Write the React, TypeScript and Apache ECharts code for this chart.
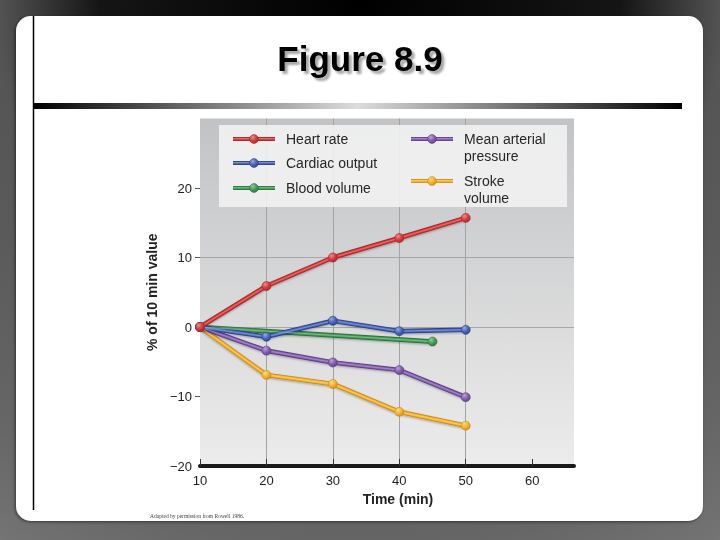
import React, { useEffect, useRef } from 'react';
import * as echarts from 'echarts';

// ---- data ----
const times = [10, 20, 30, 40, 50];
const heartRate = [0, 5.9, 10, 12.8, 15.7];
const cardiacOutput = [0, -1.4, 0.9, -0.6, -0.4];
const bloodVolumeTimes = [10, 45];
const bloodVolume = [0, -2.1];
const meanArterialPressure = [0, -3.4, -5.1, -6.2, -10.1];
const strokeVolume = [0, -6.9, -8.2, -12.2, -14.2];
const xTickValues = [10, 20, 30, 40, 50, 60];
const yTickValues = [-20, -10, 0, 10, 20];
const legendLabels = ['Heart rate', 'Cardiac output', 'Blood volume', 'Mean arterial\npressure', 'Stroke\nvolume'];

const FONT = '"Liberation Sans", Arial, Helvetica, sans-serif';

const palette = {
  red: { dark: '#a92428', mid: '#d2403f', light: '#ee8f86' },
  blue: { dark: '#2a418a', mid: '#4d67b6', light: '#97aadd' },
  green: { dark: '#28733a', mid: '#4a9b5c', light: '#93cc98' },
  purple: { dark: '#5f3b88', mid: '#8462ac', light: '#bba3d8' },
  orange: { dark: '#d08a0c', mid: '#f2b435', light: '#fbd98a' },
};

type Pal = { dark: string; mid: string; light: string };

const ballFill = (c: Pal) => ({
  type: 'radial',
  x: 0.35,
  y: 0.3,
  r: 0.8,
  colorStops: [
    { offset: 0, color: c.light },
    { offset: 0.5, color: c.mid },
    { offset: 1, color: c.dark },
  ],
});

const zip = (xs: number[], ys: number[]) => xs.map((x, i) => [x, ys[i]]);

const seriesDefs = [
  { name: legendLabels[4], data: zip(times, strokeVolume), pal: palette.orange },
  { name: legendLabels[3], data: zip(times, meanArterialPressure), pal: palette.purple },
  { name: legendLabels[2], data: zip(bloodVolumeTimes, bloodVolume), pal: palette.green },
  { name: legendLabels[1], data: zip(times, cardiacOutput), pal: palette.blue },
  { name: legendLabels[0], data: zip(times, heartRate), pal: palette.red },
];

const legendPalettes = [palette.red, palette.blue, palette.green, palette.purple, palette.orange];

function buildLegend() {
  // layout of the two-column legend
  const slots = [
    { x: 233, tx: 286, y: 139 },
    { x: 233, tx: 286, y: 163 },
    { x: 233, tx: 286, y: 188 },
    { x: 411, tx: 464, y: 139 },
    { x: 411, tx: 464, y: 181 },
  ];
  const els: any[] = [
    {
      type: 'rect',
      z: 3,
      shape: { x: 219, y: 125, width: 348, height: 82 },
      style: { fill: 'rgba(242,242,242,0.9)' },
      silent: true,
    },
  ];
  legendLabels.forEach((label, i) => {
    const s = slots[i];
    const c = legendPalettes[i];
    els.push({
      type: 'line',
      z: 4,
      shape: { x1: s.x, y1: s.y, x2: s.x + 42, y2: s.y },
      style: { stroke: c.dark, lineWidth: 4 },
    });
    els.push({
      type: 'line',
      z: 4,
      shape: { x1: s.x, y1: s.y, x2: s.x + 42, y2: s.y },
      style: { stroke: c.mid, lineWidth: 2.4 },
    });
    els.push({
      type: 'line',
      z: 4,
      shape: { x1: s.x, y1: s.y - 0.5, x2: s.x + 42, y2: s.y - 0.5 },
      style: { stroke: c.light, lineWidth: 0.7, opacity: 0.8 },
    });
    els.push({
      type: 'circle',
      z: 4,
      shape: { cx: s.x + 21, cy: s.y, r: 4.4 },
      style: { fill: ballFill(c), stroke: c.dark, lineWidth: 0.6 },
    });
    els.push({
      type: 'text',
      z: 4,
      x: s.tx,
      y: s.y - 8.5,
      style: {
        text: label,
        fontFamily: FONT,
        fontSize: 14,
        lineHeight: 17,
        fill: '#262626',
        align: 'left',
        verticalAlign: 'top',
      },
    });
  });
  return els;
}

function buildFrame() {
  return [
    {
      type: 'rect',
      z: -20,
      silent: true,
      shape: { x: 0, y: 0, width: 720, height: 540 },
      style: {
        fill: {
          type: 'radial',
          x: 360,
          y: 0,
          r: 650,
          global: true,
          colorStops: [
            { offset: 0, color: '#000000' },
            { offset: 0.4, color: '#151515' },
            { offset: 0.56, color: '#555555' },
            { offset: 0.85, color: '#666666' },
            { offset: 1, color: '#747474' },
          ],
        },
      },
    },
    {
      type: 'rect',
      z: -19,
      silent: true,
      shape: { x: 16, y: 16, width: 687, height: 505, r: 15 },
      style: { fill: '#ffffff', shadowColor: 'rgba(0,0,0,0.5)', shadowBlur: 3, shadowOffsetX: -1, shadowOffsetY: 1 },
    },
    {
      type: 'line',
      z: -18,
      silent: true,
      shape: { x1: 33.5, y1: 16, x2: 33.5, y2: 510 },
      style: { stroke: '#000', lineWidth: 1.5 },
    },
    {
      type: 'rect',
      z: -18,
      silent: true,
      shape: { x: 33, y: 103, width: 649, height: 6 },
      style: {
        fill: {
          type: 'linear',
          x: 0,
          y: 0,
          x2: 1,
          y2: 0,
          colorStops: [
            { offset: 0, color: '#000000' },
            { offset: 0.5, color: '#dcdcdc' },
            { offset: 1, color: '#000000' },
          ],
        },
      },
    },
    {
      type: 'text',
      z: 5,
      x: 150,
      y: 516,
      style: {
        text: 'Adapted by permission from Rowell 1986.',
        fontFamily: '"Liberation Serif", "Times New Roman", serif',
        fontSize: 5.5,
        fill: '#444',
        align: 'left',
        verticalAlign: 'middle',
      },
    },
  ];
}

const fmtY = (v: number) => (v < 0 ? '\u2212' + Math.abs(v) : String(v));

export default function App() {
  const ref = useRef<HTMLDivElement>(null);
  useEffect(() => {
    if (!ref.current) return;
    const chart = echarts.init(ref.current, undefined, { renderer: 'svg' });
    const series: any[] = [];
    seriesDefs.forEach((s) => {
      series.push({
        type: 'line',
        name: s.name + ' base',
        data: s.data,
        z: 2,
        symbol: 'none',
        silent: true,
        lineStyle: {
          color: s.pal.dark,
          width: 4.6,
          shadowColor: 'rgba(0,0,0,0.3)',
          shadowBlur: 2,
          shadowOffsetY: 1,
        },
        emphasis: { disabled: true },
      });
      series.push({
        type: 'line',
        name: s.name + ' body',
        data: s.data,
        z: 2,
        symbol: 'none',
        silent: true,
        lineStyle: { color: s.pal.mid, width: 2.8 },
        emphasis: { disabled: true },
      });
      series.push({
        type: 'line',
        name: s.name,
        data: s.data,
        z: 3,
        symbol: 'circle',
        symbolSize: 9,
        silent: true,
        lineStyle: { color: s.pal.light, width: 0.8, opacity: 0.8 },
        itemStyle: { color: ballFill(s.pal), borderColor: s.pal.dark, borderWidth: 0.6 },
        emphasis: { disabled: true },
      });
    });

    chart.setOption({
      animation: false,
      title: {
        text: 'Figure 8.9',
        left: 'center',
        top: 41,
        padding: 0,
        textStyle: {
          fontFamily: FONT,
          fontSize: 35,
          fontWeight: 'bold',
          color: '#000',
          textShadowColor: 'rgba(0,0,0,0.35)',
          textShadowOffsetX: 3,
          textShadowOffsetY: 3,
          textShadowBlur: 2,
        },
      },
      grid: {
        left: 200,
        right: 146,
        top: 118.5,
        bottom: 74,
        show: true,
        borderWidth: 0,
        backgroundColor: {
          type: 'linear',
          x: 0,
          y: 0,
          x2: 0,
          y2: 1,
          colorStops: [
            { offset: 0, color: '#c2c3c5' },
            { offset: 1, color: '#ececec' },
          ],
        },
      },
      xAxis: {
        type: 'value',
        min: 10,
        max: 66.3,
        interval: 10,
        name: 'Time (min)',
        nameLocation: 'middle',
        nameGap: 25,
        nameTextStyle: {
          fontFamily: FONT,
          fontSize: 14,
          fontWeight: 'bold',
          color: '#222',
          padding: [0, 0, 0, 22],
        },
        axisLine: { show: true, onZero: false, lineStyle: { color: '#1a1a1a', width: 4 } },
        axisTick: {
          show: true,
          inside: true,
          length: 7,
          customValues: xTickValues,
          lineStyle: { color: '#333', width: 1 },
        },
        axisLabel: {
          customValues: xTickValues,
          margin: 8,
          fontFamily: FONT,
          fontSize: 13,
          color: '#222',
        },
        splitLine: {
          show: true,
          showMinLine: false,
          showMaxLine: false,
          lineStyle: { color: '#a3a3a3', width: 1 },
        },
      },
      yAxis: {
        type: 'value',
        min: -20,
        max: 30,
        interval: 10,
        name: '% of 10 min value',
        nameLocation: 'middle',
        nameGap: 38,
        nameTextStyle: {
          fontFamily: FONT,
          fontSize: 14,
          fontWeight: 'bold',
          color: '#222',
        },
        axisLine: { show: false },
        axisTick: {
          show: true,
          length: 5,
          customValues: [-10, 0, 10, 20],
          lineStyle: { color: '#555', width: 1 },
        },
        axisLabel: {
          customValues: yTickValues,
          formatter: fmtY,
          margin: 8,
          fontFamily: FONT,
          fontSize: 13,
          color: '#222',
        },
        splitLine: {
          show: true,
          showMinLine: false,
          showMaxLine: false,
          lineStyle: { color: '#a8a8a8', width: 1 },
        },
      },
      graphic: { elements: [...buildFrame(), ...buildLegend()] },
      series,
    });
    return () => chart.dispose();
  }, []);
  return <div ref={ref} style={{ position: 'fixed', left: 0, top: 0, width: 720, height: 540 }} />;
}
